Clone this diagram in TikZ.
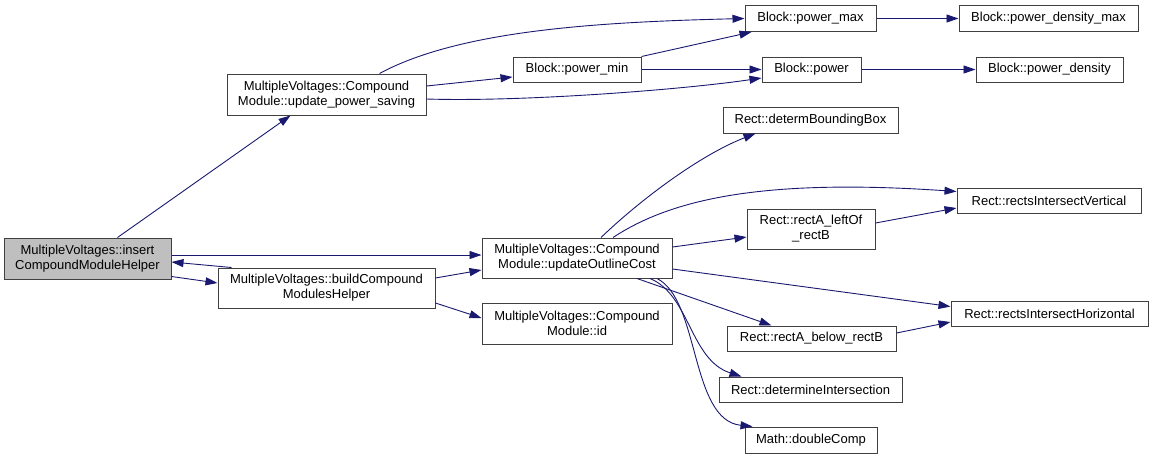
\documentclass[tikz,border=0pt]{standalone}
\usepackage{fontspec}
\setmainfont{Liberation Sans}
\usepackage{tikz}
\usetikzlibrary{arrows.meta,calc}
\definecolor{edgeblue}{HTML}{191970}
\definecolor{boxline}{HTML}{404040}
\definecolor{boxgray}{HTML}{BFBFBF}

\begin{document}
\begin{tikzpicture}[x=1pt,y=-1pt,
  box/.style={draw=boxline,line width=1pt,fill=white,inner sep=0pt,align=center,
    minimum height=25pt,font=\fontsize{13}{15}\selectfont},
  edge/.style={draw=edgeblue,line width=0.9pt,-{Triangle[length=12pt,width=8pt]}}]
\useasboundingbox (0,0) rectangle (1153,459);

% left part
\node[box,fill=boxgray,minimum width=167pt,minimum height=41pt] (insert) at (87.5,258.5) {MultipleVoltages::insert\\CompoundModuleHelper};
\node[box,minimum width=199pt,minimum height=41pt] (saving) at (326.5,94.5) {MultipleVoltages::Compound\\Module::update\_power\_saving};
\node[box,minimum width=217pt,minimum height=40pt] (build) at (326.5,288) {MultipleVoltages::buildCompound\\ModulesHelper};
\node[box,minimum width=190pt,minimum height=40pt] (outline) at (577,258) {MultipleVoltages::Compound\\Module::updateOutlineCost};
\node[box,minimum width=190pt,minimum height=41pt] (modid) at (577,323.5) {MultipleVoltages::Compound\\Module::id};

% block nodes
\node[box,minimum width=128pt] (pmin) at (577,69.5) {Block::power\_min};
\node[box,minimum width=131pt,minimum height=26pt] (pmax) at (810.5,18.5) {Block::power\_max};
\node[box,minimum width=179pt,minimum height=26pt] (pdmax) at (1048.5,18.5) {Block::power\_density\_max};
\node[box,minimum width=99pt] (pow) at (811.5,69.5) {Block::power};
\node[box,minimum width=147pt] (pden) at (1049.5,69.5) {Block::power\_density};

% rect nodes
\node[box,minimum width=175pt,minimum height=26pt] (bbox) at (810.5,120) {Rect::determBoundingBox};
\node[box,minimum width=184pt] (vert) at (1049,200.5) {Rect::rectsIntersectVertical};
\node[box,minimum width=128pt,minimum height=40pt] (leftof) at (811,229) {Rect::rectA\_leftOf\\\_rectB};
\node[box,minimum width=197pt] (horiz) at (1049.5,313.5) {Rect::rectsIntersectHorizontal};
\node[box,minimum width=169pt] (below) at (811.5,338.5) {Rect::rectA\_below\_rectB};
\node[box,minimum width=183pt] (inter) at (810.5,389.5) {Rect::determineIntersection};
\node[box,minimum width=132pt,minimum height=26pt] (dcomp) at (811,440) {Math::doubleComp};

% calls
\draw[edge] ($(insert.north)+(30,0)$) -- ($(saving.south)+(-36,0)$);
\draw[edge] ($(insert.east)+(0,-3.5)$) -- ($(outline.west)+(0,-3)$);
\draw[edge] ($(build.north west)+(14,0)$) -- ($(insert.east)+(0,3.5)$);
\draw[edge] ($(insert.east)+(0,18)$) -- ($(build.west)+(0,-5)$);
\draw[edge] ($(build.east)+(0,-10)$) -- ($(outline.west)+(0,12)$);
\draw[edge] ($(build.east)+(0,15)$) -- ($(modid.west)+(0,-5.5)$);

\draw[edge] ($(saving.north)+(53,0)$) .. controls (460,30) and (600,22) .. (pmax.west);
\draw[edge] ($(saving.east)+(0,-8.5)$) -- ($(pmin.west)+(0,7.5)$);
\draw[edge] ($(saving.east)+(0,4.5)$) .. controls (520,102) and (680,90) .. ($(pow.west)+(0,8.5)$);
\draw[edge] (pmin.north east) -- ($(pmax.south west)+(7,0)$);
\foreach \a/\b in {pmin.east/pow.west,pmax.east/pdmax.west,pow.east/pden.west} {
\draw[edge] (\a) -- (\b);
}

\draw[edge] ($(outline.north)+(24,0)$) .. controls (640,200) and (700,155) .. ($(bbox.south)+(-55,0)$);
\draw[edge] ($(outline.north)+(36,0)$) .. controls (670,200) and (760,178) .. ($(vert.west)+(0,-9)$);
\draw[edge] ($(outline.east)+(0,-11)$) -- ($(leftof.west)+(0,8)$);
\draw[edge] ($(leftof.east)+(0,-6)$) -- ($(vert.west)+(0,7.5)$);
\draw[edge] ($(outline.east)+(0,11)$) -- ($(horiz.west)+(0,-7)$);
\draw[edge] ($(below.east)+(0,-5.5)$) -- ($(horiz.west)+(0,8.5)$);
\draw[edge] ($(outline.south)+(60,0)$) -- ($(below.north)+(-40,0)$);
\draw[edge] ($(outline.south)+(73,0)$) .. controls (690,295) and (690,360) .. ($(inter.north west)+(23,0)$);
\draw[edge] ($(outline.south)+(80,0)$) .. controls (700,300) and (690,420) .. ($(dcomp.north west)+(8,0)$);
\end{tikzpicture}
\end{document}
